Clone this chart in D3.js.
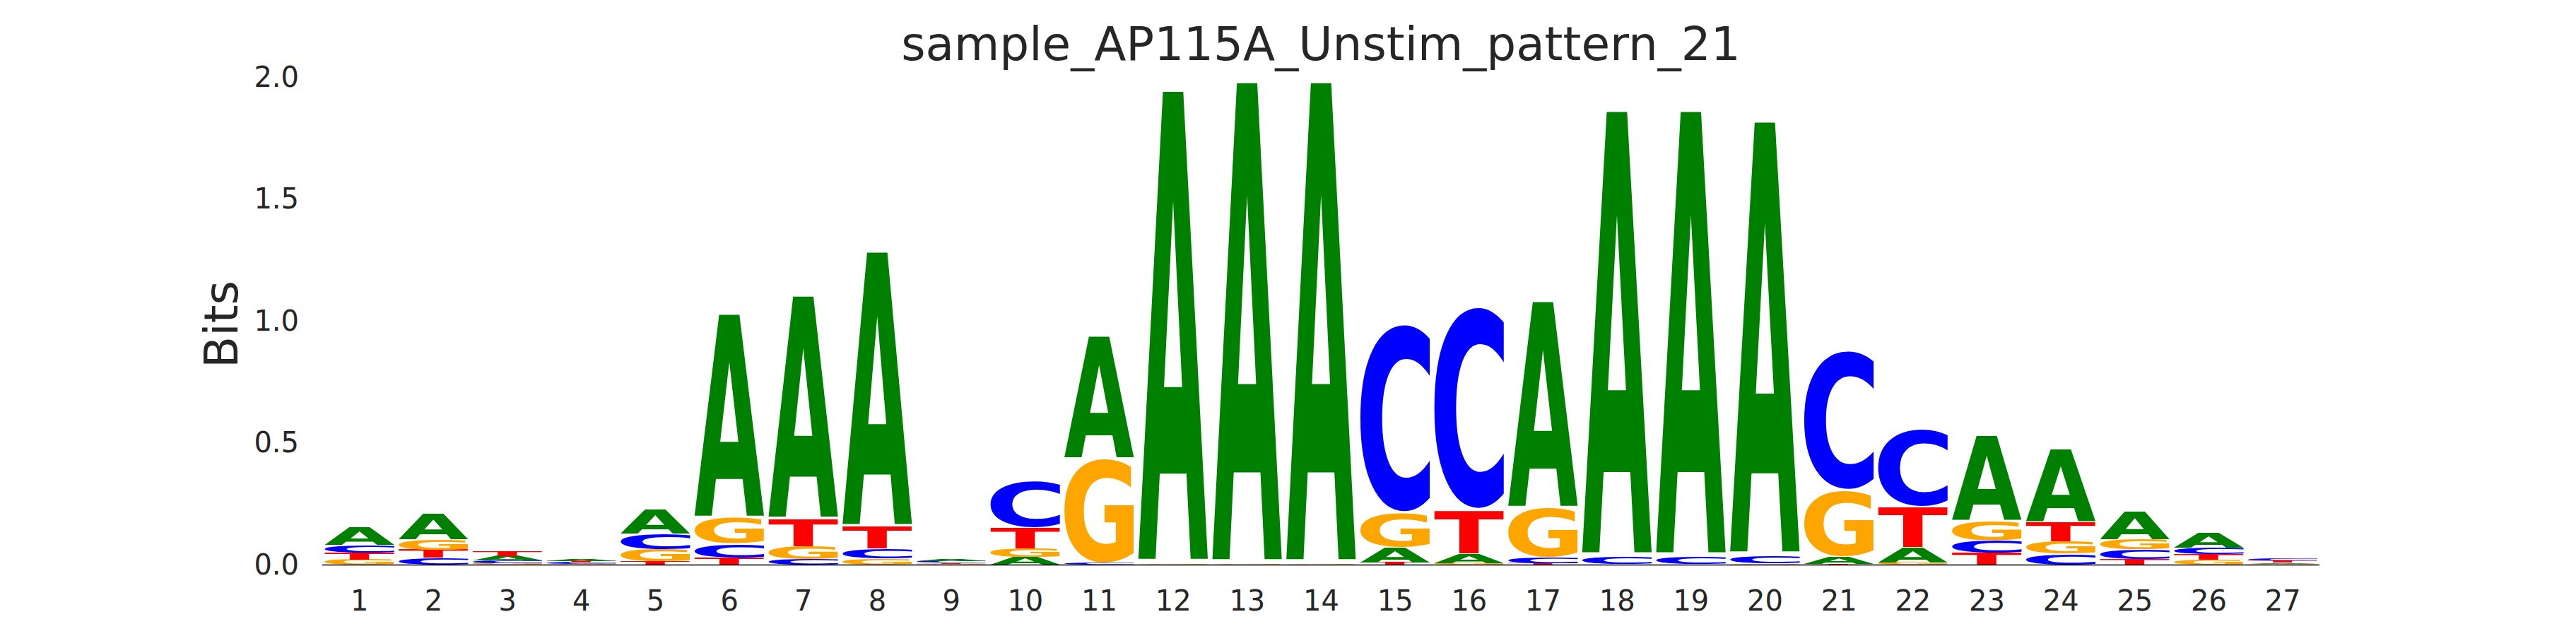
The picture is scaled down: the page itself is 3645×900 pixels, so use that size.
<!DOCTYPE html>
<html>
<head>
<meta charset="utf-8">
<script src="https://cdn.jsdelivr.net/npm/d3@7"></script>
<style>
  html, body { margin: 0; padding: 0; background: #ffffff; }
  svg { display: block; }
</style>
</head>
<body>
<div id="chart"></div>
<script>
// ---------------- data ----------------
const title = "sample_AP115A_Unstim_pattern_21";
const yLabel = "Bits";
const positions = d3.range(1, 28);
const letters = ["A", "C", "G", "T"];
const yTicks = [0, 0.5, 1.0, 1.5, 2.0];

const valsA = [0.072, 0.107, 0.019, 0.008, 0.098, 0.842, 0.922, 1.137, 0.007, 0.033,
               0.504, 1.957, 1.995, 1.995, 0.062, 0.038, 0.854, 1.845, 1.845, 1.797,
               0.030, 0.062, 0.352, 0.301, 0.114, 0.062, 0.0052];
const valsC = [0.031, 0.029, 0.010, 0.006, 0.063, 0.057, 0.022, 0.041, 0.0065, 0.194,
               0.006, 0.001, 0.001, 0.001, 0.781, 0.840, 0.023, 0.032, 0.032, 0.032,
               0.577, 0.322, 0.051, 0.045, 0.040, 0.026, 0.009];
const valsG = [0.022, 0.043, 0.008, 0.005, 0.050, 0.107, 0.054, 0.025, 0.005, 0.035,
               0.431, 0.004, 0.002, 0.002, 0.140, 0.008, 0.204, 0.001, 0.001, 0.005,
               0.272, 0.010, 0.080, 0.050, 0.042, 0.021, 0.005];
const valsT = [0.029, 0.033, 0.020, 0.0062, 0.014, 0.030, 0.113, 0.091, 0.0052, 0.085,
               0.001, 0.001, 0.001, 0.001, 0.010, 0.179, 0.007, 0.001, 0.001, 0.001,
               0.004, 0.167, 0.050, 0.080, 0.024, 0.024, 0.008];

const colors = { A: "#008000", C: "#0000ff", G: "#ffa500", T: "#ff0000" };

// ---------------- layout ----------------
const W = 3645, H = 900;
const plotLeft = 456, plotRight = 3282, yBase = 799.5, yTop = 109.5;
const glyphWidthFrac = 0.945;
const vpad = 0.02;
const minGlyphPx = 0.6;
const textColor = "#262626";
const glyphFont = "bold 200px 'DejaVu Sans'";

const x = d3.scaleLinear().domain([0.5, 27.5]).range([plotLeft, plotRight]);
const y = d3.scaleLinear().domain([0, 2]).range([yBase, yTop]);

const svg = d3.select("#chart").append("svg")
  .attr("width", W).attr("height", H)
  .attr("viewBox", `0 0 ${W} ${H}`);
svg.append("rect").attr("width", W).attr("height", H).attr("fill", "#ffffff");

// measure ink bounds of letters
const cv = document.createElement("canvas");
const ctx = cv.getContext("2d");
ctx.font = glyphFont;
const ink = {};
letters.forEach(L => {
  const m = ctx.measureText(L);
  ink[L] = {
    left: -m.actualBoundingBoxLeft,
    right: m.actualBoundingBoxRight,
    top: -m.actualBoundingBoxAscent,
    bottom: m.actualBoundingBoxDescent
  };
});

// build stacks (smallest at bottom)
const valueMap = { A: valsA, C: valsC, G: valsG, T: valsT };
const glyphs = [];
positions.forEach((p, i) => {
  const items = letters.map(L => ({ L, v: valueMap[L][i] }))
    .sort((a, b) => a.v - b.v);
  let floor = 0;
  items.forEach(it => {
    const ceil = floor + it.v;
    glyphs.push({ p, L: it.L, floor, ceil });
    floor = ceil;
  });
});

const step = x(2) - x(1);
const gw = step * glyphWidthFrac;

const gGlyphs = svg.append("g").attr("class", "glyphs");
gGlyphs.selectAll("text")
  .data(glyphs.filter(d => (y(d.floor) - y(d.ceil)) >= minGlyphPx))
  .join("text")
  .text(d => d.L)
  .attr("fill", d => colors[d.L])
  .style("font", glyphFont)
  .attr("x", 0).attr("y", 0)
  .attr("transform", d => {
    const h = d.ceil - d.floor;
    const f0 = d.floor + h * vpad / 2;
    const c0 = d.ceil - h * vpad / 2;
    const x0 = x(d.p) - gw / 2, x1 = x(d.p) + gw / 2;
    const yT = y(c0), yB = y(f0);
    const b = ink[d.L];
    const sx = (x1 - x0) / (b.right - b.left);
    const sy = (yB - yT) / (b.bottom - b.top);
    return `translate(${x0 - b.left * sx},${yT - b.top * sy}) scale(${sx},${sy})`;
  });

// baseline
svg.append("line")
  .attr("x1", x(0.5)).attr("x2", x(27.5))
  .attr("y1", y(0)).attr("y2", y(0))
  .attr("stroke", "#000000").attr("stroke-width", 1.5);

// y axis
const yAxis = d3.axisLeft(y).tickValues(yTicks).tickFormat(d3.format(".1f"))
  .tickSize(0).tickPadding(33);
const gy = svg.append("g").attr("transform", `translate(${plotLeft},0)`).call(yAxis);
gy.select(".domain").remove();
gy.selectAll("text").attr("fill", textColor)
  .style("font-family", "'DejaVu Sans'").style("font-size", "40px");

// x axis
const xAxis = d3.axisBottom(x).tickValues(positions).tickFormat(d3.format("d"))
  .tickSize(0).tickPadding(36);
const gx = svg.append("g").attr("transform", `translate(0,${yBase})`).call(xAxis);
gx.select(".domain").remove();
gx.selectAll("text").attr("fill", textColor)
  .style("font-family", "'DejaVu Sans'").style("font-size", "40px");

// title
svg.append("text")
  .attr("x", (plotLeft + plotRight) / 2).attr("y", 85)
  .attr("text-anchor", "middle")
  .attr("fill", textColor)
  .style("font-family", "'DejaVu Sans'").style("font-size", "66px")
  .text(title);

// y label
svg.append("text")
  .attr("transform", "translate(336,459) rotate(-90)")
  .attr("text-anchor", "middle")
  .attr("fill", textColor)
  .style("font-family", "'DejaVu Sans'").style("font-size", "66px")
  .text(yLabel);
</script>
</body>
</html>
